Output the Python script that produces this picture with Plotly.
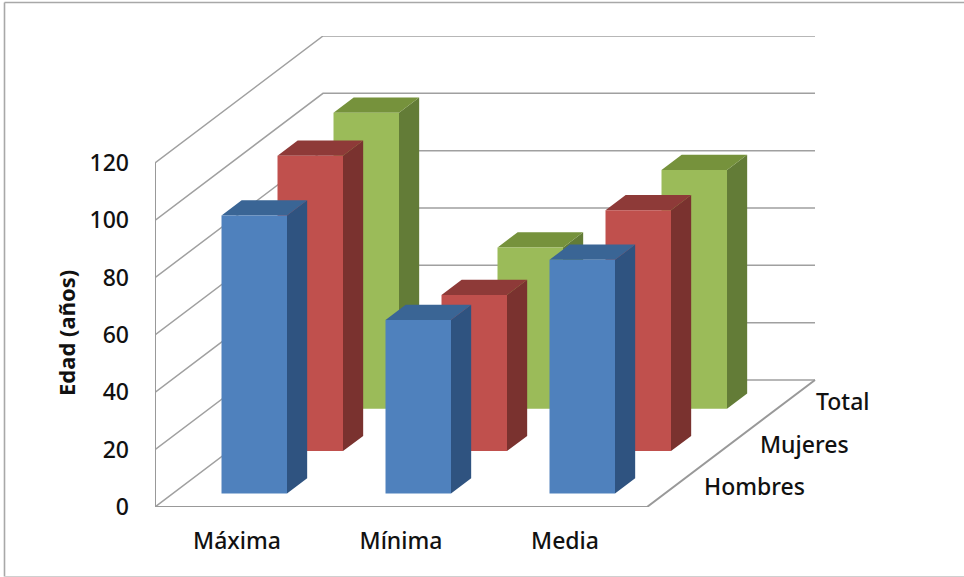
import plotly.graph_objects as go

categories = ["Máxima", "Mínima", "Media"]
series_names = ["Hombres", "Mujeres", "Total"]
hombres = [97, 60.5, 81.5]
mujeres = [103, 54.5, 84]
total = [103.3, 56.3, 83.3]
y_ticks = [0, 20, 40, 60, 80, 100, 120]
front_colors = ["#4F81BD", "#C0504D", "#9BBB59"]
top_colors = ["#3A6595", "#8E3A38", "#76923C"]
side_colors = ["#2F5380", "#7A322F", "#637C37"]

W, H = 964, 577
L, R, T, B = 155, 816, 36, 507
CAT_PX = 164
VAL_PX = (B - 163) / 120
DEPTH_X = 168 / CAT_PX       # whole floor depth, in category units
DEPTH_Y = 127 / VAL_PX       # whole floor depth, in value units
BAR_W = 65.5 / CAT_PX
BAR_D = 0.12                 # bar depth as a share of the floor depth


def proj(x, v, d):
    return x + d * DEPTH_X, v + d * DEPTH_Y


def poly(points):
    xs, ys = zip(*[proj(*p) for p in points])
    return list(xs) + [xs[0], None], list(ys) + [ys[0], None]


fig = go.Figure()
GRID = "#a0a0a0"


def line(points, color=GRID, width=1.5):
    xs, ys = zip(*[proj(*p) for p in points])
    fig.add_trace(go.Scatter(x=xs, y=ys, mode="lines",
                             line=dict(color=color, width=width),
                             hoverinfo="skip", showlegend=False))


for v in y_ticks:
    line([(0, v, 0), (0, v, 1), (3, v, 1)])
line([(0, 0, 0), (0, 120, 0)], "#999999", 2)
line([(0, 0, 0), (3, 0, 0), (3, 0, 1)], "#999999", 2)

all_series = [hombres, mujeres, total]
for s in [2, 1, 0]:
    vals = all_series[s]
    d0 = (s + 0.5) / 3 - BAR_D / 2
    d1 = d0 + BAR_D
    fx, fy, tx, ty, sx, sy = [], [], [], [], [], []
    for c, v in enumerate(vals):
        x0 = c + 0.5 - BAR_W / 2 - 0.004
        x1 = x0 + BAR_W
        a, b = poly([(x0, 0, d0), (x1, 0, d0), (x1, v, d0), (x0, v, d0)])
        fx += a; fy += b
        a, b = poly([(x0, v, d0), (x1, v, d0), (x1, v, d1), (x0, v, d1)])
        tx += a; ty += b
        a, b = poly([(x1, 0, d0), (x1, 0, d1), (x1, v, d1), (x1, v, d0)])
        sx += a; sy += b
    for xs, ys, col, part in [(sx, sy, side_colors[s], "lado"),
                              (tx, ty, top_colors[s], "tapa"),
                              (fx, fy, front_colors[s], "frente")]:
        fig.add_trace(go.Scatter(x=xs, y=ys, mode="lines", fill="toself",
                                 fillcolor=col, line=dict(width=0, color=col),
                                 name=f"{series_names[s]} {part}",
                                 hoverinfo="skip", showlegend=False))

FONT = "'Noto Sans', 'Open Sans', sans-serif"
TEXT = "#111111"
pw, ph = R - L, B - T


def px(x):
    return (x - L) / pw


def py(y):
    return (B - y) / ph


annotations = []
for s, name in enumerate(series_names):
    xa, ya = proj(3, 0, (s + 0.5) / 3)
    annotations.append(dict(x=xa, y=ya, xref="x", yref="y", text=name,
                            showarrow=False, xanchor="left", yanchor="middle",
                            xshift=27, font=dict(family=FONT, size=23, color=TEXT, weight=500)))
annotations.append(dict(x=px(66), y=py(333), xref="paper", yref="paper",
                        text="<b>Edad (años)</b>", textangle=-90, showarrow=False,
                        xanchor="center", yanchor="middle",
                        font=dict(family=FONT, size=22, color=TEXT)))

frame = "#a8a8a8"
shapes = [
    dict(type="line", xref="paper", yref="paper", x0=px(4.5), x1=px(4.5), y0=py(2.5), y1=py(576.5),
         line=dict(color=frame, width=1.6)),
    dict(type="line", xref="paper", yref="paper", x0=px(4.5), x1=px(964), y0=py(2.5), y1=py(2.5),
         line=dict(color=frame, width=1.6)),
    dict(type="line", xref="paper", yref="paper", x0=px(4.5), x1=px(964), y0=py(576.5), y1=py(576.5),
         line=dict(color="#cfcfcf", width=1.2)),
]

fig.update_layout(
    width=W, height=H, autosize=False,
    margin=dict(l=L, r=W - R, t=T, b=H - B, pad=0),
    paper_bgcolor="white", plot_bgcolor="rgba(0,0,0,0)",
    showlegend=False, annotations=annotations, shapes=shapes,
    font=dict(family=FONT, size=22, color=TEXT),
    xaxis=dict(range=[0, pw / CAT_PX], tickvals=[0.5, 1.5, 2.5], ticktext=categories,
               showgrid=False, zeroline=False, showline=False, ticks="",
               ticklabelstandoff=18, tickfont=dict(family=FONT, size=23, color=TEXT, weight=500)),
    yaxis=dict(range=[0, ph / VAL_PX], tickvals=y_ticks,
               showgrid=False, zeroline=False, showline=False, ticks="",
               ticklabelstandoff=25, tickfont=dict(family=FONT, size=23, color=TEXT, weight=500)),
)

fig.write_html("out.html", config=dict(displayModeBar=False),
               post_script="document.body.style.margin='0';document.body.style.overflow='hidden';")
